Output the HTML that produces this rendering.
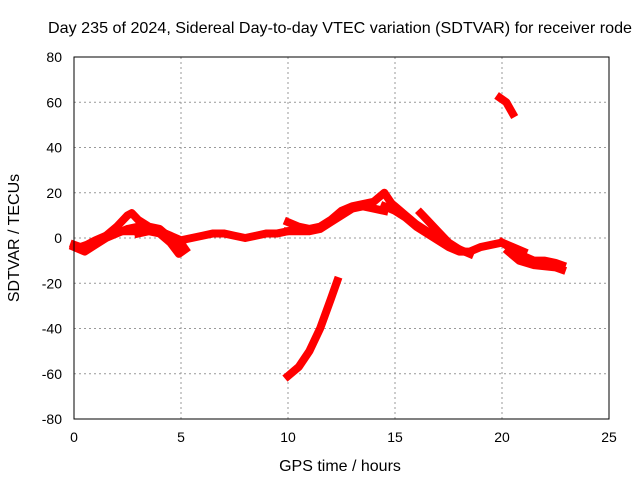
<!DOCTYPE html>
<html><head><meta charset="utf-8"><style>
body{margin:0;background:#fff}
svg text{font-family:"Liberation Sans",sans-serif;font-size:14px;fill:#000}
</style></head><body>
<svg id="chart" width="640" height="480" xmlns="http://www.w3.org/2000/svg">
<rect width="640" height="480" fill="#fff"/>
<text x="48" y="33" style="font-size:16px" textLength="584" lengthAdjust="spacingAndGlyphs">Day 235 of 2024, Sidereal Day-to-day VTEC variation (SDTVAR) for receiver rode</text>
<g id="grid"></g>
<g id="series"></g>
<rect x="74" y="57" width="535" height="362" fill="none" stroke="#000" stroke-width="1"/>
<g id="ticks"></g>
<text x="340" y="471" text-anchor="middle" style="font-size:16px">GPS time / hours</text>
<text transform="translate(19,238) rotate(-90)" text-anchor="middle" style="font-size:16px">SDTVAR / TECUs</text>
</svg>
<script>
const xTicks=[0,5,10,15,20,25];
const yTicks=[-80,-60,-40,-20,0,20,40,60,80];
const traceMainT=[0,0.3,0.6,1,1.5,2,2.5,3,3.5,4,4.5,5,5.5,6,6.5,7,7.5,8,8.5,9,9.5,10];
const traceMainV=[-3,-4,-3,-1,1,3,3,3,4,3,1,-1,0,1,2,2,1,0,1,2,2,3];
const traceMain2T=[0,0.5,1,1.5,2,2.5,3,3.5,4,4.5,5];
const traceMain2V=[-4,-6,-3,0,2,4,5,4,3,1,-2];
const traceBumpT=[1.5,2,2.5,2.7,3,3.5,4,4.5,5];
const traceBumpV=[1,5,10,11,8,5,4,0,-3];
const traceDipT=[3,3.5,4,4.5,4.9,5.2];
const traceDipV=[2,3,2,-2,-7,-5];
const traceMidAT=[10,10.5,11,11.5,12,12.5,13,13.5,14,14.5,15];
const traceMidAV=[7,5,4,5,8,12,14,15,16,20,13];
const traceMidBT=[10,10.5,11,11.5,12,12.5,13,13.5,14,14.5];
const traceMidBV=[3,3,3,4,7,10,13,14,13,12];
const traceLateT=[14.5,15,15.5,16,16.5,17,17.5,18,18.5,19,19.5,20,20.5,21];
const traceLateV=[14,12,9,5,2,-1,-4,-6,-6,-4,-3,-2,-4,-6];
const traceLate2T=[16.2,16.5,17,17.5,18];
const traceLate2V=[11,8,3,-2,-5];
const traceLate3T=[15,15.5,16,16.5,17,17.5,18,18.5];
const traceLate3V=[14,10,6,3,1,-3,-5,-7];
const traceEndAT=[20,20.5,21,21.5,22,22.5,22.8];
const traceEndAV=[-2,-5,-8,-10,-10,-11,-12];
const traceEndBT=[20.3,20.8,21.5,22.5,22.8];
const traceEndBV=[-6,-10,-12,-13,-14];
const traceHighT=[19.9,20.2,20.5];
const traceHighV=[62,60,55];
const traceSteepT=[10,10.5,11,11.5,12,12.3];
const traceSteepV=[-61,-57,-50,-40,-27,-19];
const traces=[[traceMainT,traceMainV],[traceMain2T,traceMain2V],[traceBumpT,traceBumpV],[traceDipT,traceDipV],[traceMidAT,traceMidAV],[traceMidBT,traceMidBV],[traceLateT,traceLateV],[traceLate2T,traceLate2V],[traceLate3T,traceLate3V],[traceEndAT,traceEndAV],[traceEndBT,traceEndBV],[traceHighT,traceHighV],[traceSteepT,traceSteepV]];
const X=t=>74+t*(535/25);
const Y=v=>238-v*(181/80);
const NS="http://www.w3.org/2000/svg";
const grid=document.getElementById('grid'),ticks=document.getElementById('ticks'),ser=document.getElementById('series');
function mk(tag,attrs,parent){const e=document.createElementNS(NS,tag);for(const k in attrs)e.setAttribute(k,attrs[k]);parent.appendChild(e);return e;}
xTicks.forEach(t=>{
 if(t>0&&t<25){const g=mk('line',{x1:X(t),x2:X(t),y1:57,y2:419,stroke:'#999','stroke-dasharray':'2,3'},grid);
 
 }
 const tx=mk('text',{x:X(t),y:442,'text-anchor':'middle'},ticks);tx.textContent=t;
 
 
});
yTicks.forEach(v=>{
 if(v>-80&&v<80){const g=mk('line',{x1:74,x2:609,y1:Y(v),y2:Y(v),stroke:'#999','stroke-dasharray':'2,3'},grid);
 
 }
 const tx=mk('text',{x:62,y:Y(v)+5,'text-anchor':'end'},ticks);tx.textContent=v;
 
 
});
traces.forEach(([ts,vs])=>{
 const pts=ts.map((t,i)=>X(t)+','+Y(vs[i])).join(' ');
 const p=mk('polyline',{points:pts,fill:'none',stroke:'#f00','stroke-width':8,'stroke-linejoin':'round','stroke-linecap':'square'},ser);
 
 
});
</script>
</body></html>
